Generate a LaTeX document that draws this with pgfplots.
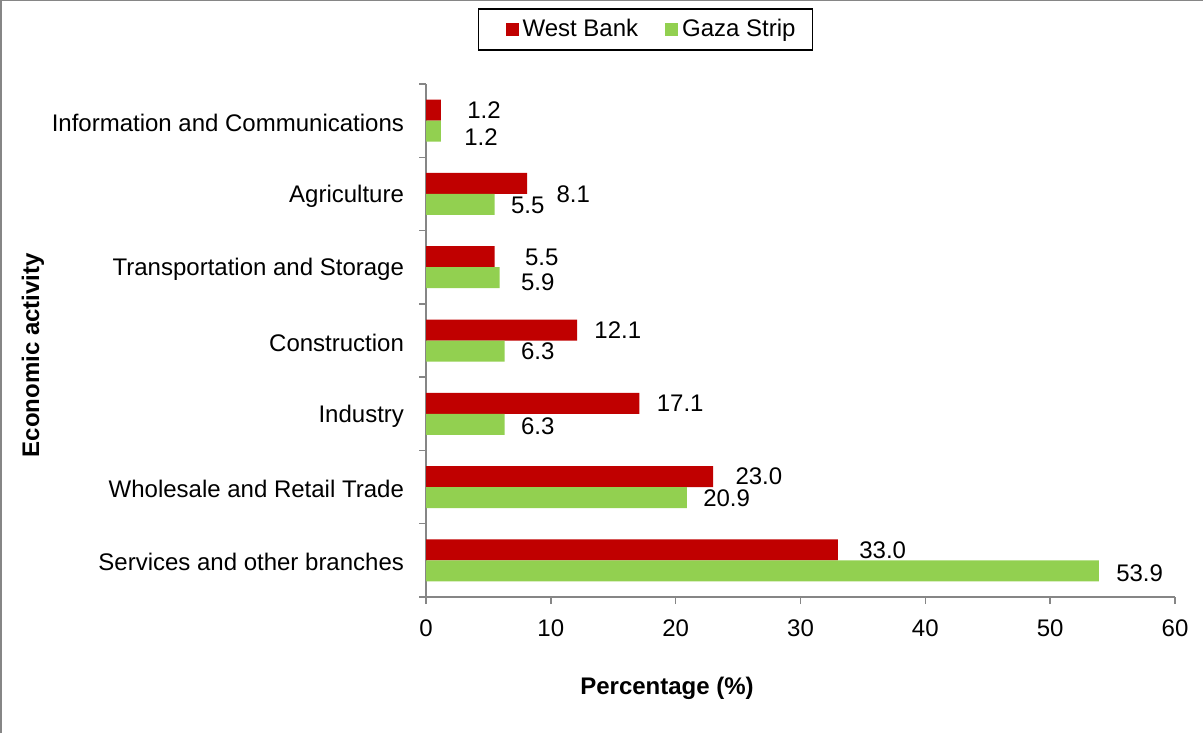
\documentclass[border=0pt]{standalone}
\usepackage{fontspec}
\setmainfont{Liberation Sans}
\usepackage{pgfplots}
\pgfplotsset{compat=1.18}
\usepackage{pgfplotstable}

\definecolor{wbred}{HTML}{C00000}
\definecolor{gzgreen}{HTML}{92D050}
\definecolor{axgray}{HTML}{868686}

% y: 0 = Services ... 6 = Information; dx/dy = label offsets (pt)
\pgfplotstableread{
y x dx dy
0 33.0 10.5 0
1 23.0 11 0
2 17.1 8.5 0
3 12.1 8.5 0
4 5.5 15 -0.5
5 8.1 14.5 -5.5
6 1.2 13 0
}\westbank
\pgfplotstableread{
y x dx dy
0 53.9 8.5 -1
1 20.9 8 -0.5
2 6.3 8 -1
3 6.3 8 0
4 5.9 10.5 -2.5
5 5.5 8 -0.5
6 1.2 11.5 -3
}\gaza

\begin{document}
\begin{tikzpicture}
\useasboundingbox (0,0) rectangle (601.5pt,-366.5pt);
\draw[axgray, line width=1pt] (0.5pt,-366.5pt) -- (0.5pt,-0.25pt) -- (601.5pt,-0.25pt);
\begin{axis}[
    at={(213pt,-298.5pt)}, anchor=south west,
    scale only axis,
    width=374.5pt, height=256.5pt,
    xbar, bar width=10.5pt,
    xmin=0, xmax=60, ymin=-0.5, ymax=6.5,
    enlarge y limits=false,
    xtick={0,10,...,60},
    ytick={-0.5,0.5,...,6.5},
    yticklabels={Services and other branches, Wholesale and Retail Trade, Industry,
        Construction, Transportation and Storage, Agriculture, Information and Communications, {}},
    axis x line*=bottom, axis y line*=left,
    axis line style={axgray, line width=0.75pt, -},
    tick style={axgray, line width=0.75pt},
    tick align=outside, major tick length=3.5pt,
    /pgf/number format/assume math mode=true,
    tick label style={font=\fontsize{12}{14}\selectfont},
    yticklabel style={yshift=17.3pt, xshift=-4pt},
    xticklabel style={yshift=-4.5pt},
    label style={font=\fontsize{12}{14}\selectfont\bfseries},
    xlabel={Percentage (\%)},
    ylabel={Economic activity},
    xlabel style={at={(axis description cs:0.3218,-0.1774)}, anchor=center},
    ylabel style={at={(axis description cs:-0.5247,0.4717)}, anchor=center},
    point meta=explicit,
    nodes near coords,
    nodes near coords style={font=\fontsize{12}{14}\selectfont,
        /pgf/number format/fixed, /pgf/number format/fixed zerofill, /pgf/number format/precision=1},
    visualization depends on={\thisrow{dx} \as \dx},
    visualization depends on={\thisrow{dy} \as \dy},
    every node near coord/.append style={anchor=west, inner sep=0pt, xshift=\dx pt, yshift=\dy pt},
    legend columns=2,
    legend style={at={(0.2931,1.1062)}, anchor=center, draw=black, line width=0.75pt,
        font=\fontsize{12}{14}\selectfont, inner xsep=6.5pt, inner ysep=4.25pt,
        nodes={inner xsep=2pt, inner ysep=1pt},
        /tikz/every even column/.append style={column sep=4.5pt}},
    legend image code/.code={\path (0pt,0pt); \fill[#1] (7pt,-3.25pt) rectangle (13.5pt,3.25pt);},
]
\addplot[fill=wbred, draw=none, bar shift=5.25pt] table[x=x, y=y, meta=x] {\westbank};
\addplot[fill=gzgreen, draw=none, bar shift=-5.25pt] table[x=x, y=y, meta=x] {\gaza};
\legend{West Bank, Gaza Strip}
\end{axis}
\end{tikzpicture}
\end{document}
